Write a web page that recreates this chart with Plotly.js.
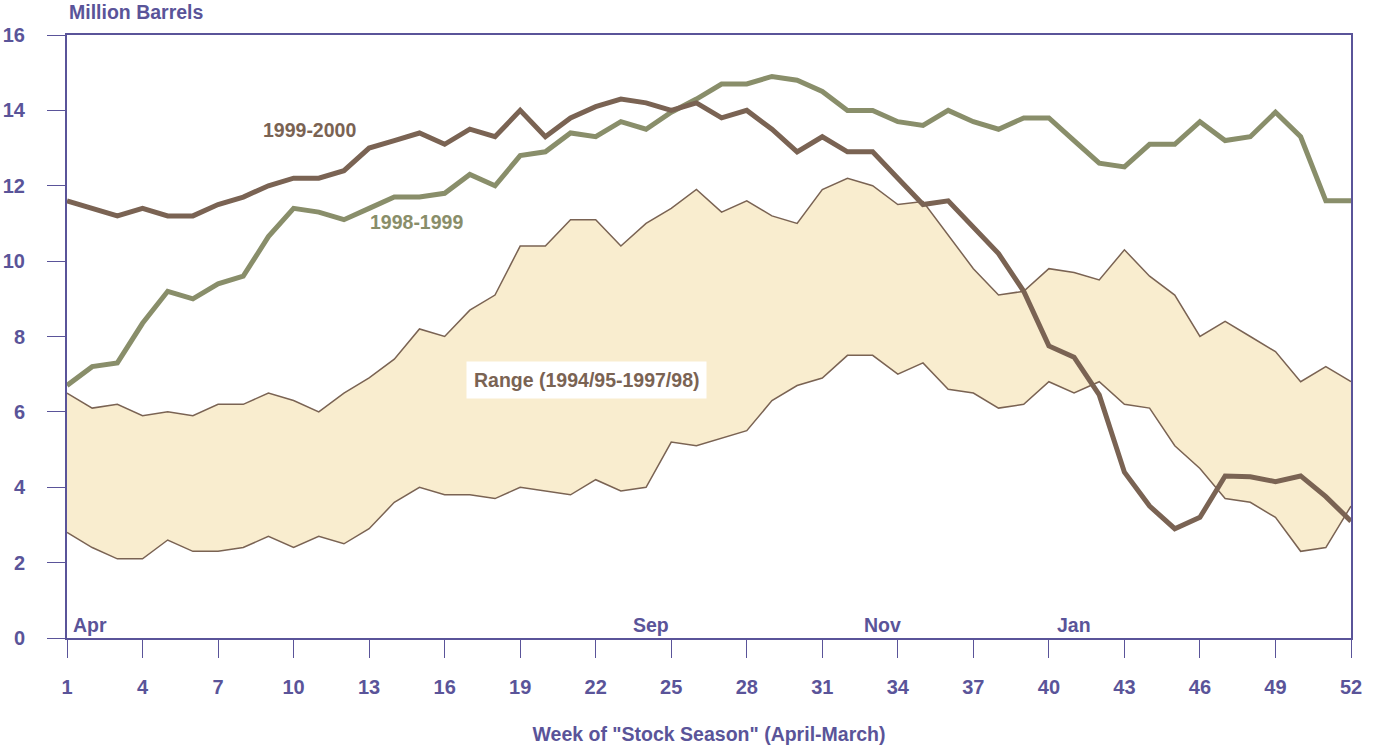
<!DOCTYPE html>
<html>
<head>
<meta charset="utf-8">
<script src="https://cdn.plot.ly/plotly-3.0.1.min.js"></script>
<style>html,body{margin:0;padding:0;background:#fff;}#chart{width:1375px;height:749px;}</style>
</head>
<body>
<div id="chart"></div>
<script>
const weeks = Array.from({length: 52}, (_, i) => i + 1);

const stocks1999_2000 = [11.6, 11.4, 11.2, 11.4, 11.2, 11.2, 11.5, 11.7, 12.0, 12.2,
  12.2, 12.4, 13.0, 13.2, 13.4, 13.1, 13.5, 13.3, 14.0, 13.3,
  13.8, 14.1, 14.3, 14.2, 14.0, 14.2, 13.8, 14.0, 13.5, 12.9,
  13.3, 12.9, 12.9, 12.2, 11.5, 11.6, 10.9, 10.2, 9.2, 7.75,
  7.45, 6.45, 4.4, 3.5, 2.9, 3.2, 4.3, 4.28, 4.15, 4.3,
  3.75, 3.1];

const stocks1998_1999 = [6.7, 7.2, 7.3, 8.35, 9.2, 9.0, 9.4, 9.6, 10.65, 11.4,
  11.3, 11.1, 11.4, 11.7, 11.7, 11.8, 12.3, 12.0, 12.8, 12.9,
  13.4, 13.3, 13.7, 13.5, 13.95, 14.3, 14.7, 14.7, 14.9, 14.8,
  14.5, 14.0, 14.0, 13.7, 13.6, 14.0, 13.7, 13.5, 13.8, 13.8,
  13.2, 12.6, 12.5, 13.1, 13.1, 13.7, 13.2, 13.3, 13.95, 13.3,
  11.6, 11.6];

const rangeHigh = [6.5, 6.1, 6.2, 5.9, 6.0, 5.9, 6.2, 6.2, 6.5, 6.3,
  6.0, 6.5, 6.9, 7.4, 8.2, 8.0, 8.7, 9.1, 10.4, 10.4,
  11.1, 11.1, 10.4, 11.0, 11.4, 11.9, 11.3, 11.6, 11.2, 11.0,
  11.9, 12.2, 12.0, 11.5, 11.58, 10.7, 9.8, 9.1, 9.2, 9.8,
  9.7, 9.5, 10.3, 9.6, 9.1, 8.0, 8.4, 8.0, 7.6, 6.8,
  7.2, 6.8];

const rangeLow = [2.8, 2.4, 2.1, 2.1, 2.6, 2.3, 2.3, 2.4, 2.7, 2.4,
  2.7, 2.5, 2.9, 3.6, 4.0, 3.8, 3.8, 3.7, 4.0, 3.9,
  3.8, 4.2, 3.9, 4.0, 5.2, 5.1, 5.3, 5.5, 6.3, 6.7,
  6.9, 7.5, 7.5, 7.0, 7.3, 6.6, 6.5, 6.1, 6.2, 6.8,
  6.5, 6.8, 6.2, 6.1, 5.1, 4.5, 3.7, 3.6, 3.2, 2.3,
  2.4, 3.5];

const xTickVals = [1, 4, 7, 10, 13, 16, 19, 22, 25, 28, 31, 34, 37, 40, 43, 46, 49, 52];
const yTickVals = [0, 2, 4, 6, 8, 10, 12, 14, 16];

const monthLabels = ['Apr', 'Sep', 'Nov', 'Jan'];
const monthWeeks = [1.9, 24.2, 33.4, 41.0];

const purple = '#5a5499';
const brown = '#7a6353';
const green = '#898e6a';
const fillColor = '#f9edcf';
const font = 'Liberation Sans, Arial, sans-serif';
const txtSize = 19.5;

const traces = [
  {x: weeks, y: rangeLow, type: 'scatter', mode: 'lines',
   line: {color: brown, width: 1.5}, hoverinfo: 'skip', showlegend: false},
  {x: weeks, y: rangeHigh, type: 'scatter', mode: 'lines', fill: 'tonexty',
   fillcolor: fillColor, line: {color: brown, width: 1.5}, hoverinfo: 'skip', showlegend: false},
  {x: weeks, y: stocks1998_1999, type: 'scatter', mode: 'lines',
   line: {color: green, width: 5}, hoverinfo: 'skip', showlegend: false},
  {x: weeks, y: stocks1999_2000, type: 'scatter', mode: 'lines',
   line: {color: brown, width: 5}, hoverinfo: 'skip', showlegend: false}
];

const annotations = [
  {x: 10.65, y: 13.48, xref: 'x', yref: 'y', text: '1999-2000', showarrow: false,
   font: {family: font, size: txtSize, color: brown, weight: 'bold'}},
  {x: 14.9, y: 11.04, xref: 'x', yref: 'y', text: '1998-1999', showarrow: false,
   font: {family: font, size: txtSize, color: green, weight: 'bold'}},
  {x: 21.65, y: 6.85, xref: 'x', yref: 'y', text: 'Range (1994/95-1997/98)', showarrow: false,
   bgcolor: '#ffffff', borderpad: 7,
   font: {family: font, size: txtSize, color: brown, weight: 'bold'}},
  {x: 0, y: 1, xref: 'paper', yref: 'paper', xanchor: 'left', yanchor: 'bottom', yshift: 10,
   text: 'Million Barrels', showarrow: false,
   font: {family: font, size: txtSize, color: purple, weight: 'bold'}}
];
monthLabels.forEach((m, i) => {
  annotations.push({x: monthWeeks[i], y: 0.35, xref: 'x', yref: 'y', text: m, showarrow: false,
    font: {family: font, size: txtSize, color: purple, weight: 'bold'}});
});

const layout = {
  width: 1375, height: 749,
  margin: {l: 67, r: 24, t: 35, b: 111},
  paper_bgcolor: '#ffffff', plot_bgcolor: '#ffffff',
  showlegend: false,
  xaxis: {
    range: [1, 52], tickmode: 'array', tickvals: xTickVals,
    ticks: 'outside', ticklen: 18, tickwidth: 1, tickcolor: purple,
    showgrid: false, zeroline: false,
    showline: true, mirror: true, linecolor: purple, linewidth: 2,
    ticklabelstandoff: 12,
    tickfont: {family: font, size: 20, color: purple, weight: 'bold'},
    title: {text: 'Week of "Stock Season" (April-March)', standoff: 30,
      font: {family: font, size: txtSize, color: purple, weight: 'bold'}}
  },
  yaxis: {
    range: [0, 16], tickmode: 'array', tickvals: yTickVals,
    ticks: 'outside', ticklen: 18, tickwidth: 1, tickcolor: purple,
    showgrid: false, zeroline: false,
    showline: true, mirror: true, linecolor: purple, linewidth: 2,
    ticklabelstandoff: 18,
    tickfont: {family: font, size: 20, color: purple, weight: 'bold'}
  },
  annotations: annotations
};

Plotly.newPlot('chart', traces, layout, {displayModeBar: false, staticPlot: true});
</script>
</body>
</html>
